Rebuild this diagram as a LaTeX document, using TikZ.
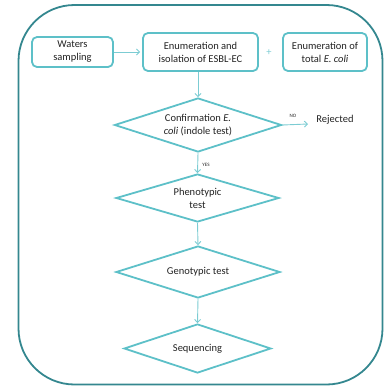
\documentclass[tikz,border=0pt]{standalone}
\usepackage{fontspec}
\setmainfont{Carlito}
\usetikzlibrary{shapes.geometric,arrows.meta}
\definecolor{frame}{HTML}{34878F}
\definecolor{shape}{HTML}{5DC0C8}
\definecolor{arr}{HTML}{7CCCD3}
\definecolor{ink}{HTML}{222222}
\tikzset{
  box/.style={draw=shape,line width=1.8pt,rounded corners=5pt,align=center,font=\fontsize{10.5}{13}\selectfont,text=ink,inner sep=0pt},
  dia/.style={diamond,draw=shape,line width=1.8pt,inner sep=0pt,aspect=3,align=center,font=\fontsize{10.5}{13}\selectfont,text=ink},
  conn/.style={draw=arr,line width=0.9pt,-{Straight Barb[length=3pt,width=6pt]}},
  tiny/.style={font=\fontsize{5}{6}\selectfont,inner sep=0pt,text=ink},
  txt/.style={font=\fontsize{10.5}{13}\selectfont,inner sep=0pt,text=ink}
}
\begin{document}
\begin{tikzpicture}[x=1pt,y=-1pt]
\useasboundingbox (0,0) rectangle (391,389);
\draw[frame,line width=1.8pt,rounded corners=56pt] (18.5,5) rectangle (382.5,384.5);
\node[box,minimum width=81pt,minimum height=30pt] (ws) at (72.5,52) {Waters\\sampling};
\node[box,minimum width=115pt,minimum height=38pt] (en) at (200.5,52) {Enumeration and\\isolation of ESBL-EC};
\node[box,minimum width=84pt,minimum height=38pt] (tot) at (325,52) {Enumeration of\\total \textit{E. coli}};
\node[txt,text=arr] (plus) at (269,53) {+};
\node[dia,minimum width=167pt,minimum height=54pt] (d1) at (198,125) {Confirmation \textit{E.}\\\textit{coli} (indole test)};
\node[txt] (rej) at (335,120) {Rejected};
\coordinate (rejin) at (308,124);
\node[dia,minimum width=163pt,minimum height=48pt] (d2) at (197.5,198) {Phenotypic\\test};
\node[dia,minimum width=164pt,minimum height=52pt] (d3) at (198,272) {Genotypic test};
\node[dia,minimum width=147pt,minimum height=49pt] (d4) at (197.5,348.5) {Sequencing};
\node[tiny] (no) at (293,116) {NO};
\node[tiny] (yes) at (206,165) {YES};
\draw[conn,shorten >=2pt] (ws.east) -- (en.west);
\draw[conn] (en.south -| d1.north) -- (d1.north);
\draw[conn] (d1.east) -- (rejin);
\draw[conn] (d1.south) -- (d2.north);
\draw[conn] (d2.south) -- (d3.north);
\draw[conn] (d3.south) -- (d4.north);
\end{tikzpicture}
\end{document}
